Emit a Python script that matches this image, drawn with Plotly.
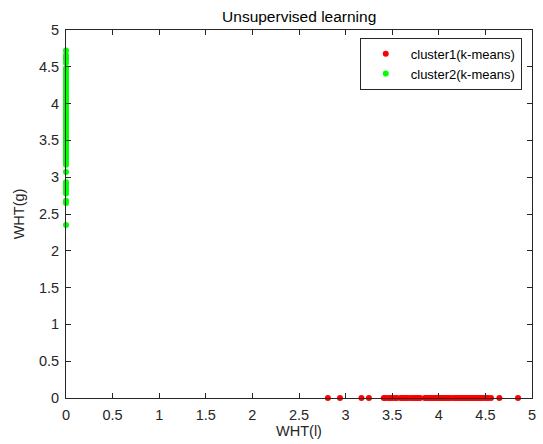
import plotly.graph_objects as go

# cluster1: values of WHT(l) (WHT(g) = 0)
cluster1_x = [2.81, 2.94, 3.17, 3.25, 3.41, 3.43, 3.46, 3.48, 3.50, 3.53, 3.55,
              3.59, 3.61, 3.63, 3.65, 3.67, 3.70, 3.72, 3.74, 3.76, 3.78, 3.80,
              3.85, 3.87, 3.89, 3.91, 3.93, 3.95, 3.97, 3.99, 4.01, 4.03, 4.05,
              4.07, 4.09, 4.11, 4.13, 4.16, 4.18, 4.20, 4.22, 4.24, 4.26, 4.28,
              4.30, 4.32, 4.34, 4.36, 4.38, 4.40, 4.42, 4.44, 4.46, 4.48, 4.51,
              4.53, 4.56, 4.65, 4.85]
cluster1_y = [0.0] * len(cluster1_x)

# cluster2: values of WHT(g) (WHT(l) = 0)
cluster2_y = [2.35, 2.65, 2.68, 2.78, 2.82, 2.86, 2.90, 2.93, 3.07, 3.17, 3.20,
              3.23, 3.26, 3.29, 3.32, 3.35, 3.38, 3.41, 3.44, 3.47, 3.50, 3.53,
              3.56, 3.59, 3.62, 3.65, 3.68, 3.71, 3.74, 3.77, 3.80, 3.83, 3.86,
              3.89, 3.92, 3.95, 3.98, 4.01, 4.04, 4.07, 4.10, 4.13, 4.16, 4.19,
              4.22, 4.25, 4.28, 4.31, 4.34, 4.38, 4.42, 4.46, 4.48, 4.55, 4.60,
              4.63, 4.66, 4.72]
cluster2_x = [0.0] * len(cluster2_y)

tick_vals = [0, 0.5, 1, 1.5, 2, 2.5, 3, 3.5, 4, 4.5, 5]
tick_text = ["0", "0.5", "1", "1.5", "2", "2.5", "3", "3.5", "4", "4.5", "5"]

font_family = "Liberation Sans, Arial, sans-serif"
axis_color = "#262626"
label_color = "#262626"

fig = go.Figure()
fig.add_trace(go.Scatter(x=cluster1_x, y=cluster1_y, mode="markers",
                         name="cluster1(k-means)", cliponaxis=False,
                         marker=dict(color="#FF0000", size=6, line=dict(width=0))))
fig.add_trace(go.Scatter(x=cluster2_x, y=cluster2_y, mode="markers",
                         name="cluster2(k-means)", cliponaxis=False,
                         marker=dict(color="#00FF00", size=6, line=dict(width=0))))

axis_common = dict(
    range=[0, 5], tickvals=tick_vals, ticktext=tick_text,
    showgrid=False, zeroline=False, showline=True, linecolor=axis_color,
    linewidth=1, mirror="ticks", ticks="inside", ticklen=5,
    tickcolor=axis_color, automargin=False,
    tickfont=dict(family=font_family, size=14.5, color=label_color),
)

fig.update_layout(
    width=543, height=444,
    margin=dict(l=66, r=11, t=30, b=46),
    paper_bgcolor="white", plot_bgcolor="white",
    font=dict(family=font_family, color=axis_color),
    title=dict(text="Unsupervised learning", x=0.551, xanchor="center",
               y=0.962, yanchor="middle",
               font=dict(family=font_family, size=15.5, color="#000000")),
    xaxis=dict(**axis_common, ticklabelstandoff=4,
               title=dict(text="WHT(l)", standoff=2,
                          font=dict(family=font_family, size=14.5, color=label_color))),
    yaxis=dict(**axis_common, ticklabelstandoff=3,
               title=dict(text="WHT(g)", standoff=10,
                          font=dict(family=font_family, size=14.5, color=label_color))),
    legend=dict(x=0.978, y=0.979, xanchor="right", yanchor="top",
                bordercolor=axis_color, borderwidth=1, bgcolor="white",
                font=dict(family=font_family, size=13, color="#000000"),
                itemwidth=40, tracegroupgap=0),
    showlegend=True,
)

fig.write_html("out.html")
